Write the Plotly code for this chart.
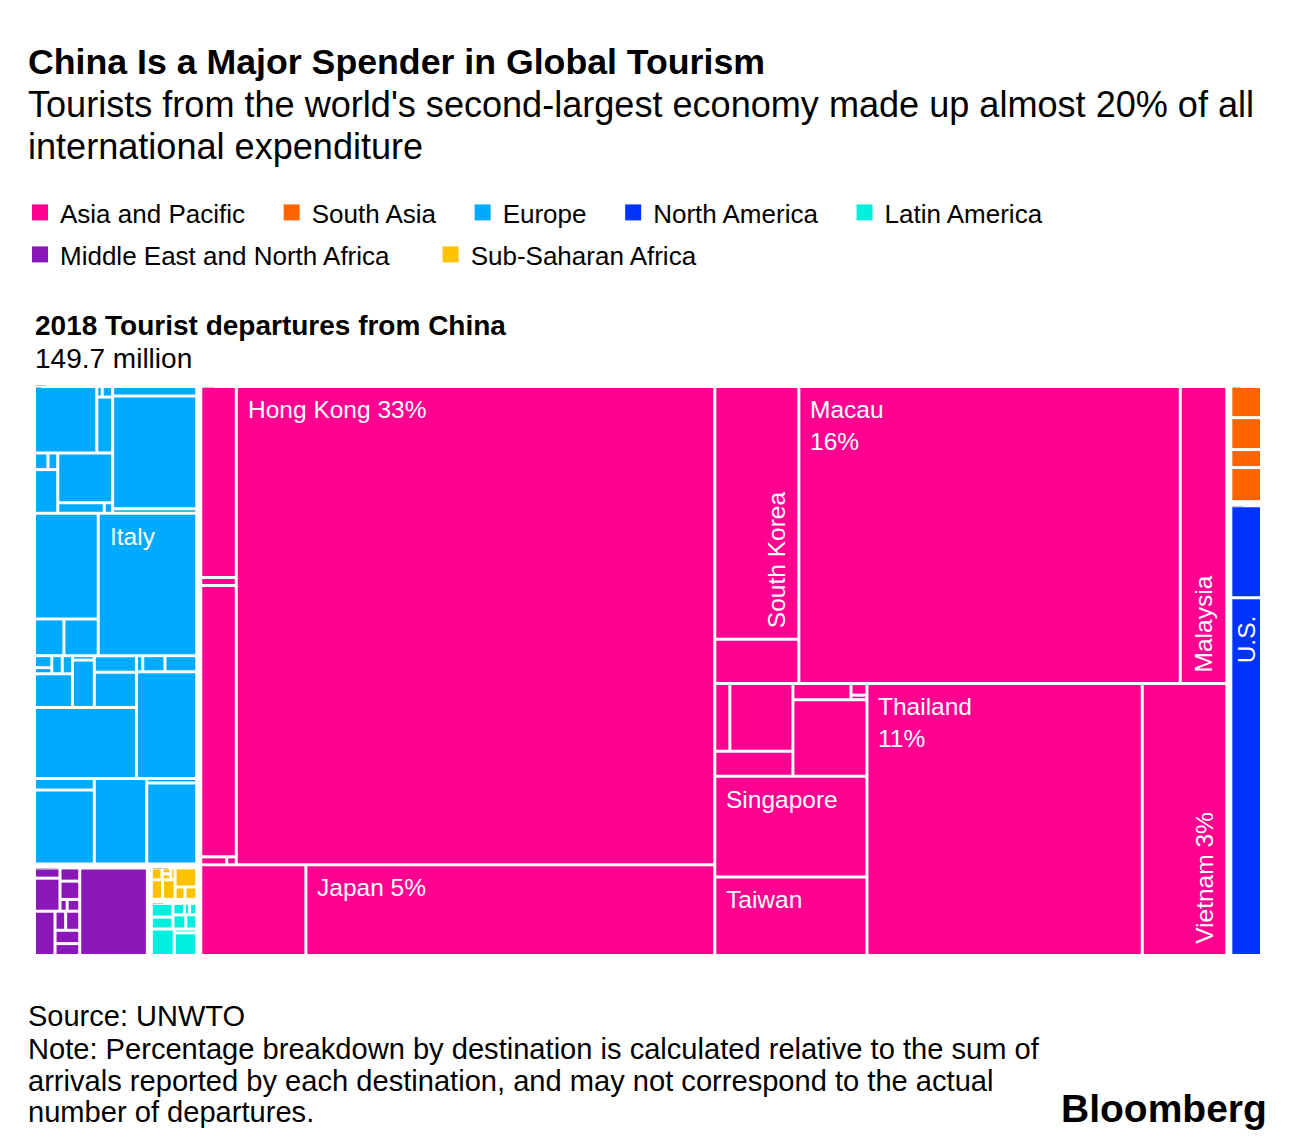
import plotly.graph_objects as go

# page is shifted by the 8px body margin of the html page: figure is drawn 8px in from the top-left
OFF = 8
PW, PH = 1296, 1146              # page (window) size
W, H = PW - OFF, PH - OFF        # figure size
FONT = "Liberation Sans, Arial, Helvetica, sans-serif"

# ---------------- data (estimated arrivals of Chinese tourists, thousands; read from tile areas) -------------
europe_countries = ["Austria", "Azerbaijan", "Belarus", "Belgium", "Bosnia and Herzegovina", "Bulgaria",
                    "Croatia", "Czech Republic", "Denmark", "Estonia", "Finland", "France", "Georgia",
                    "Germany", "Greece", "Hungary", "Italy", "Kazakhstan", "Kyrgyzstan", "Latvia",
                    "Lithuania", "Montenegro", "North Macedonia", "Norway", "Poland", "Portugal", "Russia",
                    "San Marino", "Serbia", "Slovenia", "Spain", "Sweden", "Switzerland", "Turkey",
                    "Ukraine", "United Kingdom"]
europe_arrivals = [937, 13, 25, 201, 51, 37, 230, 620, 111, 20, 182, 2148, 86, 1525, 245, 286, 3178,
                   47, 24, 43, 42, 290, 22, 234, 159, 336, 1639, 23, 81, 116, 1457, 157, 1002, 1016,
                   51, 918]

mena_countries = ["Algeria", "Egypt", "Iraq", "Jordan", "Kuwait", "Lebanon", "Morocco", "Oman", "Qatar",
                  "Saudi Arabia", "Tunisia", "United Arab Emirates"]
mena_arrivals = [62, 200, 62, 86, 20, 35, 216, 48, 64, 78, 70, 1406]

ssa_countries = ["Angola", "Benin", "Botswana", "Cabo Verde", "Ethiopia", "Kenya", "South Africa",
                 "Tanzania", "Zimbabwe"]
ssa_arrivals = [34, 14, 14, 14, 59, 66, 111, 33, 39]

latam_countries = ["Argentina", "Bolivia", "Brazil", "Chile", "Colombia", "Costa Rica", "Cuba",
                   "Ecuador", "Panama", "Peru"]
latam_arrivals = [76, 66, 34, 15, 21, 47, 40, 156, 22, 131]

asia_countries = ["Australia", "Brunei", "Cambodia", "Fiji", "Guam", "Hong Kong", "Indonesia", "Japan",
                  "South Korea", "Laos", "Macau", "Malaysia", "Mongolia", "Myanmar", "New Zealand",
                  "Northern Mariana Islands", "Palau", "Papua New Guinea", "Philippines", "Singapore",
                  "Taiwan", "Thailand", "Vietnam"]
asia_arrivals = [1505, 63, 2137, 46, 17, 50746, 2112, 8217, 4712, 826, 25120, 3066, 226, 948, 431, 207,
                 41, 16, 1257, 3397, 2650, 16595, 5099]

south_asia_countries = ["India", "Maldives", "Nepal", "Sri Lanka"]
south_asia_arrivals = [245, 251, 142, 268]

north_america_countries = ["Canada", "United States"]
north_america_arrivals = [706, 2745]

# treemap order of regions
regions = ["Europe", "Middle East and North Africa", "Sub-Saharan Africa", "Latin America",
           "Asia and Pacific", "South Asia", "North America"]
region_data = {
    "Europe": (europe_countries, europe_arrivals),
    "Middle East and North Africa": (mena_countries, mena_arrivals),
    "Sub-Saharan Africa": (ssa_countries, ssa_arrivals),
    "Latin America": (latam_countries, latam_arrivals),
    "Asia and Pacific": (asia_countries, asia_arrivals),
    "South Asia": (south_asia_countries, south_asia_arrivals),
    "North America": (north_america_countries, north_america_arrivals),
}
legend_row1 = ["Asia and Pacific", "South Asia", "Europe", "North America", "Latin America"]
legend_row2 = ["Middle East and North Africa", "Sub-Saharan Africa"]
region_colors = {
    "Asia and Pacific": "#ff0090",
    "South Asia": "#ff6400",
    "Europe": "#00aaff",
    "North America": "#0033ff",
    "Latin America": "#00f0e0",
    "Middle East and North Africa": "#8a18b8",
    "Sub-Saharan Africa": "#ffc200",
}

# labelled tiles: horizontal (top-left) and rotated ones
label_h = {"Italy": "Italy", "Hong Kong": "Hong Kong {p}%", "Japan": "Japan {p}%",
           "Macau": "Macau<br>{p}%", "Thailand": "Thailand<br>{p}%", "Singapore": "Singapore",
           "Taiwan": "Taiwan"}
label_v = {"South Korea": "South Korea", "Malaysia": "Malaysia", "United States": "U.S.",
           "Vietnam": "Vietnam {p}%"}

# ---------------- build treemap arrays ----------------
ROOT = "root"
ids, labels, parents, values, colors = [ROOT], ["All destinations"], [""], [0], ["white"]
for r in regions:
    ids.append(r); labels.append(r); parents.append(ROOT); values.append(0); colors.append("white")
for r in regions:
    names, vals = region_data[r]
    for n, v in zip(names, vals):
        ids.append(r + "/" + n); labels.append(n); parents.append(r); values.append(v)
        colors.append(region_colors[r])

total = sum(sum(region_data[r][1]) for r in regions)


def fx(px):   # page x -> paper fraction
    return (px - OFF) / W


def fy(py):   # page y -> paper fraction
    return 1 - (py - OFF) / H


# treemap box (page px)
X0, X1, Y0, Y1 = 32, 1264, 384, 958
INNER, PAD = 3, 2

fig = go.Figure()
fig.add_trace(go.Treemap(
    ids=ids, labels=labels, parents=parents, values=values,
    branchvalues="remainder", sort=False,
    marker=dict(colors=colors, line=dict(width=0), pad=dict(t=PAD, l=PAD, r=PAD, b=PAD),
                depthfade=False),
    tiling=dict(packing="binary", pad=INNER),
    pathbar=dict(visible=False),
    textinfo="none", hoverinfo="label+value",
    domain=dict(x=[fx(X0), fx(X1)], y=[fy(Y1), fy(Y0)]),
))


# ---- replicate d3 binary tiling to find tile positions for the labels ----
def tile_binary(vals, x0, y0, x1, y1):
    n = len(vals)
    sums = [0.0]
    for v in vals:
        sums.append(sums[-1] + v)
    out = [None] * n

    def part(i, j, value, x0, y0, x1, y1):
        if i >= j - 1:
            out[i] = (x0, y0, x1, y1)
            return
        off = sums[i]
        target = value / 2 + off
        k, hi = i + 1, j - 1
        while k < hi:
            mid = (k + hi) >> 1
            if sums[mid] < target:
                k = mid + 1
            else:
                hi = mid
        if (target - sums[k - 1]) < (sums[k] - target) and i + 1 < k:
            k -= 1
        vl = sums[k] - off
        vr = value - vl
        if (x1 - x0) > (y1 - y0):
            xk = (x0 * vr + x1 * vl) / value if value else x1
            part(i, k, vl, x0, y0, xk, y1)
            part(k, j, vr, xk, y0, x1, y1)
        else:
            yk = (y0 * vr + y1 * vl) / value if value else y1
            part(i, k, vl, x0, y0, x1, yk)
            part(k, j, vr, x0, yk, x1, y1)

    part(0, n, sums[n], x0, y0, x1, y1)
    return out


rects = {}
p = INNER / 2
rx0, ry0, rx1, ry1 = 0.0, 0.0, float(X1 - X0), float(Y1 - Y0)
region_vals = [sum(region_data[r][1]) for r in regions]
reg_rects = tile_binary(region_vals, rx0 + PAD - p, ry0 + PAD - p, rx1 - PAD + p, ry1 - PAD + p)
for r, rr in zip(regions, reg_rects):
    a0, b0, a1, b1 = rr[0] + p, rr[1] + p, rr[2] - p, rr[3] - p
    names, vals = region_data[r]
    crs = tile_binary(vals, a0 + PAD - p, b0 + PAD - p, a1 - PAD + p, b1 - PAD + p)
    for n, cr in zip(names, crs):
        rects[n] = (X0 + cr[0] + p, Y0 + cr[1] + p, X0 + cr[2] - p, Y0 + cr[3] - p)

value_of = {}
for r in regions:
    for n, v in zip(*region_data[r]):
        value_of[n] = v

annotations = []
LBL = 24.5
for n, t in label_h.items():
    x0, y0, x1, y1 = rects[n]
    s = t.format(p=round(100 * value_of[n] / total))
    annotations.append(dict(x=fx(x0 + 8), y=fy(y0 + 6), xref="paper", yref="paper",
                            xanchor="left", yanchor="top", text=s, showarrow=False,
                            align="left", font=dict(family=FONT, size=LBL, color="white")))
for n, t in label_v.items():
    x0, y0, x1, y1 = rects[n]
    s = t.format(p=round(100 * value_of[n] / total))
    if n == "United States":
        xa, xx, ya, yy = "center", (x0 + x1) / 2, "top", y0 + 14
    else:
        xa, xx, ya, yy = "right", x1 - 6, "bottom", y1 - 8
    annotations.append(dict(x=fx(xx), y=fy(yy), xref="paper", yref="paper",
                            xanchor=xa, yanchor=ya, text=s, showarrow=False, textangle=-90,
                            font=dict(family=FONT, size=LBL, color="white")))


def txt(x, y, s, size, anchor="left", bold=False):
    annotations.append(dict(x=fx(x), y=fy(y), xref="paper", yref="paper", xanchor=anchor,
                            yanchor="middle", showarrow=False, align="left",
                            text=("<b>%s</b>" % s) if bold else s,
                            font=dict(family=FONT, size=size, color="black")))


txt(26, 62, "China Is a Major Spender in Global Tourism", 35.7, bold=True)
txt(26, 104, "Tourists from the world's second-largest economy made up almost 20% of all", 36.1)
txt(26, 146, "international expenditure", 36.1)
txt(33, 325, "2018 Tourist departures from China", 28, bold=True)
txt(33, 358, "149.7 million", 28)
txt(26, 1016, "Source: UNWTO", 29)
txt(26, 1049, "Note: Percentage breakdown by destination is calculated relative to the sum of", 29.1)
txt(26, 1081, "arrivals reported by each destination, and may not correspond to the actual", 29.1)
txt(26, 1112, "number of departures.", 29.1)
txt(1269, 1108, "Bloomberg", 39, anchor="right", bold=True)

# legend entries (two one-row legends so that entries flow like the original)
legend_gap = {"Middle East and North Africa": 5}
for r in legend_row1 + legend_row2:
    fig.add_trace(go.Scatter(x=[None], y=[None], mode="markers",
                             name=r + "\u00a0" * legend_gap.get(r, 3),
                             legend="legend" if r in legend_row1 else "legend2",
                             marker=dict(symbol="square", size=16, color=region_colors[r]),
                             hoverinfo="skip"))

leg_common = dict(orientation="h", xanchor="left", yanchor="top",
                  font=dict(family=FONT, size=26, color="black"), bgcolor="rgba(0,0,0,0)",
                  itemclick=False, itemdoubleclick=False)

fig.update_layout(
    width=W, height=H, margin=dict(l=0, r=0, t=0, b=0),
    paper_bgcolor="white", plot_bgcolor="white",
    xaxis=dict(visible=False), yaxis=dict(visible=False),
    showlegend=True,
    legend=dict(x=fx(20), y=fy(189), **leg_common),
    legend2=dict(x=fx(20), y=fy(231), **leg_common),
    annotations=annotations,
    font=dict(family=FONT),
)

fig.write_html("out.html")
